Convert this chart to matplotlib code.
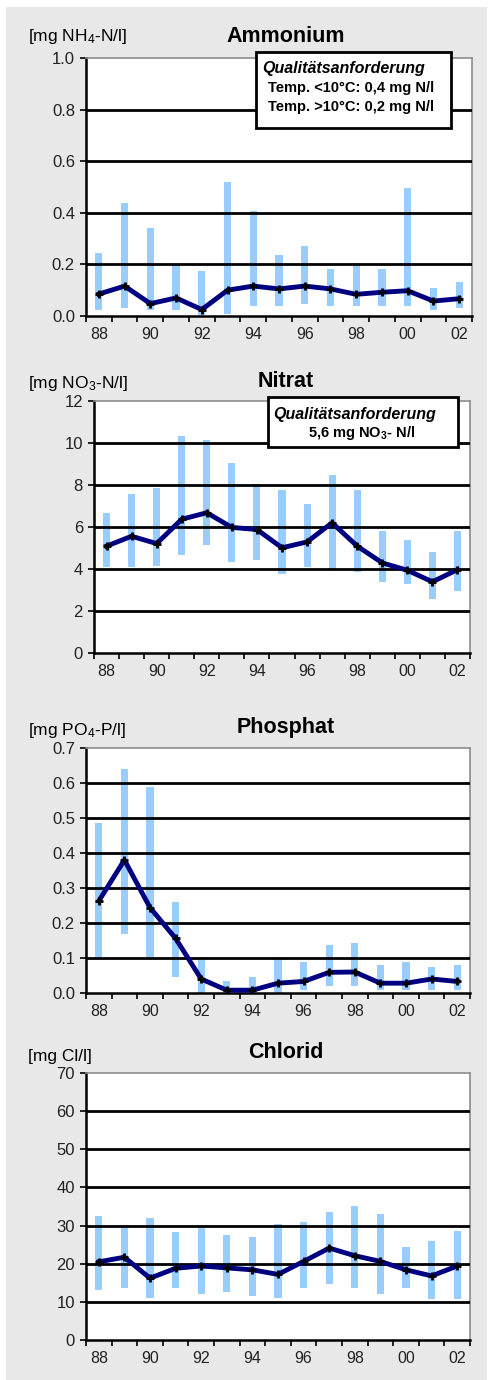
import numpy as np
import matplotlib
matplotlib.use("Agg")
from matplotlib import pyplot as plt
from matplotlib.patches import Rectangle

plt.rcParams['font.family'] = ['Liberation Sans', 'DejaVu Sans']
plt.rcParams['mathtext.default'] = 'regular'

years = ['88', '89', '90', '91', '92', '93', '94', '95', '96', '97', '98', '99', '00', '01', '02']
year_labels = ['88', '', '90', '', '92', '', '94', '', '96', '', '98', '', '00', '', '02']

# Ammonium [mg NH4-N/l]
nh4_mean = [0.085, 0.116, 0.048, 0.07, 0.025, 0.10, 0.116, 0.105, 0.116, 0.105, 0.084, 0.092, 0.098, 0.058, 0.067]
nh4_min = [0.022, 0.03, 0.022, 0.022, 0.003, 0.008, 0.037, 0.037, 0.045, 0.037, 0.037, 0.037, 0.037, 0.022, 0.03]
nh4_max = [0.243, 0.438, 0.34, 0.203, 0.173, 0.518, 0.407, 0.235, 0.27, 0.182, 0.204, 0.182, 0.495, 0.108, 0.13]

# Nitrat [mg NO3-N/l]
no3_mean = [5.09, 5.56, 5.21, 6.37, 6.68, 5.98, 5.88, 5.01, 5.29, 6.2, 5.09, 4.29, 3.94, 3.39, 3.97]
no3_min = [4.1, 4.1, 4.15, 4.67, 5.15, 4.34, 4.44, 3.77, 4.1, 3.96, 3.88, 3.39, 3.29, 2.58, 2.96]
no3_max = [6.66, 7.57, 7.87, 10.33, 10.14, 9.05, 8.04, 7.76, 7.09, 8.47, 7.76, 5.8, 5.37, 4.8, 5.8]

# Phosphat [mg PO4-P/l]
po4_mean = [0.263, 0.38, 0.244, 0.156, 0.04, 0.008, 0.008, 0.028, 0.033, 0.059, 0.06, 0.028, 0.028, 0.04, 0.033]
po4_min = [0.102, 0.169, 0.104, 0.045, 0.0, 0.0, 0.0, 0.0, 0.01, 0.021, 0.021, 0.01, 0.01, 0.01, 0.01]
po4_max = [0.485, 0.639, 0.588, 0.26, 0.102, 0.035, 0.047, 0.102, 0.09, 0.138, 0.143, 0.079, 0.09, 0.073, 0.079]

# Chlorid [mg Cl/l]
cl_mean = [20.5, 21.7, 16.2, 18.8, 19.4, 18.9, 18.4, 17.2, 20.6, 24.1, 22.1, 20.6, 18.4, 16.8, 19.4]
cl_min = [13.1, 13.6, 11.1, 13.6, 12.1, 12.6, 11.5, 11.1, 13.6, 14.7, 13.6, 12.1, 13.6, 10.7, 10.7]
cl_max = [32.5, 29.4, 32.0, 28.2, 29.4, 27.6, 27.0, 30.4, 31.0, 33.6, 35.2, 33.1, 24.4, 26.0, 28.6]

W, H = 488, 1380
fig = plt.figure(figsize=(W / 100, H / 100), dpi=100)
fig.patch.set_facecolor('white')
fig.patches.append(Rectangle((6 / W, 0), 481 / W, 1 - 7 / H, transform=fig.transFigure,
                             facecolor='#e8e8e8', edgecolor='none', zorder=-5))


def panel(box, title, unit, title_y, unit_y, mean, lo, hi, ymax, step, fmt):
    left, right, top, bottom = box
    ax = fig.add_axes([left / W, 1 - bottom / H, (right - left) / W, (bottom - top) / H])
    x = np.arange(len(years))
    lo = np.array(lo)
    hi = np.array(hi)
    ax.bar(x, hi - lo, bottom=lo, width=0.28, color='#99ccff', zorder=1)
    ax.plot(x, mean, color='#000080', lw=3.5, zorder=4, solid_joinstyle='round')
    ax.plot(x, mean, ls='none', marker='+', color='black', ms=6, mew=2, zorder=5)
    ax.set_xlim(-0.5, len(years) - 0.5)
    ax.set_ylim(0, ymax)
    ticks = np.arange(0, ymax + step / 2, step)
    ax.set_yticks(ticks)
    ax.set_yticklabels([fmt.format(t) for t in ticks], fontsize=12, color='#222222')
    ax.set_xticks(x)
    ax.set_xticklabels(year_labels, fontsize=11.5, color='#222222')
    ax.set_xticks(np.arange(-0.5, len(years)), minor=True)
    ax.tick_params(axis='x', which='major', length=0, pad=8)
    ax.tick_params(axis='x', which='minor', length=4, width=1.2, direction='out')
    ax.tick_params(axis='y', length=4, width=1.2, direction='out', pad=4)
    for t in ticks[1:-1]:
        ax.axhline(t, color='black', lw=2, zorder=3)
    for s in ['top', 'right']:
        ax.spines[s].set_color('#8c8c8c')
        ax.spines[s].set_linewidth(1.2)
    for s in ['left', 'bottom']:
        ax.spines[s].set_color('black')
        ax.spines[s].set_linewidth(1.8)
    ax.set_facecolor('white')
    fig.text(286 / W, 1 - title_y / H, title, fontsize=15.5, fontweight='bold',
             ha='center', va='center')
    fig.text(28 / W, 1 - unit_y / H, unit, fontsize=12.5, ha='left', va='center')
    return ax


panel((86, 472, 58, 316), 'Ammonium', '[mg NH$_4$-N/l]', 37, 37,
      nh4_mean, nh4_min, nh4_max, 1.0, 0.2, '{:.1f}')
panel((94, 470, 401, 653), 'Nitrat', '[mg NO$_3$-N/l]', 381, 384,
      no3_mean, no3_min, no3_max, 12, 2, '{:.0f}')
panel((86, 470, 748, 993), 'Phosphat', '[mg PO$_4$-P/l]', 728, 730,
      po4_mean, po4_min, po4_max, 0.7, 0.1, '{:.1f}')
panel((86, 470, 1073, 1340), 'Chlorid', '[mg Cl/l]', 1052, 1057,
      cl_mean, cl_min, cl_max, 70, 10, '{:.0f}')

# quality requirement boxes
fig.patches.append(Rectangle((256 / W, 1 - 128 / H), 195 / W, 76 / H, transform=fig.transFigure,
                             facecolor='white', edgecolor='black', lw=2, zorder=10))
fig.text(262 / W, 1 - 69 / H, 'Qualitätsanforderung', fontsize=11.5, fontweight='bold',
         fontstyle='italic', ha='left', va='center', zorder=11)
fig.text(268 / W, 1 - 88 / H, 'Temp. <10°C: 0,4 mg N/l', fontsize=10.5, fontweight='bold',
         ha='left', va='center', zorder=11)
fig.text(268 / W, 1 - 107 / H, 'Temp. >10°C: 0,2 mg N/l', fontsize=10.5, fontweight='bold',
         ha='left', va='center', zorder=11)

fig.patches.append(Rectangle((268 / W, 1 - 447 / H), 190 / W, 50 / H, transform=fig.transFigure,
                             facecolor='white', edgecolor='black', lw=2, zorder=10))
fig.text(273 / W, 1 - 414 / H, 'Qualitätsanforderung', fontsize=11.5, fontweight='bold',
         fontstyle='italic', ha='left', va='center', zorder=11)
fig.text(362 / W, 1 - 433 / H, '5,6 mg NO$_3$- N/l', fontsize=10.5, fontweight='bold',
         ha='center', va='center', zorder=11)

fig.savefig('out.png', dpi=100)
